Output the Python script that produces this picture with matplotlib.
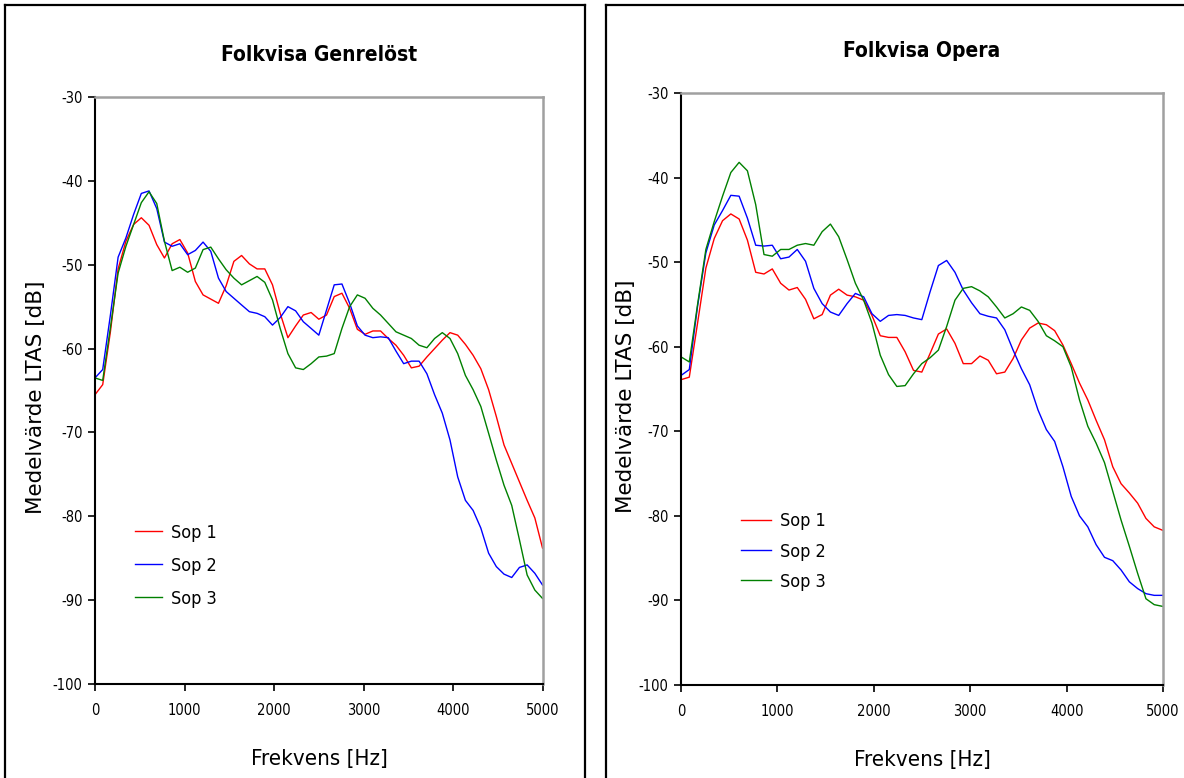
import matplotlib
matplotlib.use('Agg')
import matplotlib.pyplot as plt
from matplotlib.lines import Line2D

#-------------- Dados --------------

freq = [0, 86, 172, 258, 345, 431, 517, 603, 689, 775, 861, 947, 1034, 1120, 1206,
        1292, 1378, 1464, 1550, 1636, 1723, 1809, 1895, 1981, 2067, 2153, 2239, 2325,
        2412, 2498, 2584, 2670, 2756, 2842, 2928, 3014, 3101, 3187, 3273, 3359, 3445,
        3531, 3617, 3704, 3790, 3876, 3962, 4048, 4134, 4220, 4306, 4393, 4479, 4565,
        4651, 4737, 4823, 4909, 4995]

genre_sop1 = [-65.5, -64.3, -58, -50.5, -47.2, -45.2, -44.4, -45.3, -47.6, -49.2, -47.5, -47,
              -48.6, -52, -53.6, -54.1, -54.6, -52.5, -49.6, -48.9, -49.9, -50.5, -50.5, -52.4,
              -55.8, -58.7, -57.3, -56, -55.7, -56.5, -56, -53.8, -53.4, -55.2, -57.7, -58.3,
              -57.9, -57.9, -58.8, -59.6, -60.8, -62.3, -62.1, -61, -60, -59, -58.1, -58.4,
              -59.5, -60.8, -62.4, -64.9, -68.1, -71.5, -73.7, -75.9, -78.1, -80.2, -83.8]
genre_sop2 = [-63.5, -62.5, -56, -49.1, -46.8, -44, -41.5, -41.2, -43.3, -47.3, -47.8, -47.5,
              -48.8, -48.3, -47.3, -48.4, -51.6, -53.2, -54, -54.8, -55.6, -55.8, -56.2, -57.2,
              -56.3, -55, -55.5, -56.8, -57.6, -58.4, -55.4, -52.4, -52.3, -54.6, -57.3, -58.4,
              -58.7, -58.6, -58.7, -60.3, -61.8, -61.5, -61.5, -63, -65.5, -67.7, -70.9, -75.3,
              -78.1, -79.3, -81.4, -84.4, -86, -86.9, -87.3, -86.1, -85.8, -86.8, -88.2]
genre_sop3 = [-63.5, -63.8, -57.5, -51, -47.8, -45.2, -42.6, -41.3, -42.7, -47.2, -50.7, -50.3,
              -50.9, -50.4, -48.2, -47.9, -49.3, -50.6, -51.6, -52.4, -51.9, -51.4, -52.1, -54.2,
              -57.6, -60.6, -62.3, -62.5, -61.8, -61, -60.9, -60.6, -57.6, -55, -53.6, -54,
              -55.2, -56, -57, -58, -58.4, -58.8, -59.6, -59.9, -58.8, -58.1, -58.8, -60.6,
              -63.2, -64.9, -66.9, -70.1, -73.3, -76.3, -78.7, -82.8, -87, -88.8, -89.8]

opera_sop1 = [-63.9, -63.6, -57.2, -50.7, -47.2, -45.1, -44.3, -44.9, -47.4, -51.2, -51.4, -50.8,
              -52.5, -53.3, -53, -54.4, -56.7, -56.2, -53.9, -53.2, -53.9, -54.1, -54.5, -56.3,
              -58.7, -58.9, -58.9, -60.6, -62.8, -63, -60.8, -58.5, -57.9, -59.6, -62, -62,
              -61.1, -61.6, -63.2, -63, -61.4, -59.2, -57.8, -57.2, -57.4, -58.1, -59.8, -62,
              -64.3, -66.3, -68.7, -71, -74.2, -76.2, -77.3, -78.5, -80.3, -81.3, -81.7]
opera_sop2 = [-63.4, -62.7, -55.2, -48.9, -45.6, -43.9, -42.1, -42.2, -44.8, -48, -48.1, -48,
              -49.6, -49.4, -48.5, -49.9, -53.1, -54.9, -55.9, -56.3, -54.9, -53.7, -54.1, -56.1,
              -57, -56.3, -56.2, -56.3, -56.6, -56.8, -53.5, -50.4, -49.8, -51.2, -53.3, -54.8,
              -56.1, -56.4, -56.6, -58, -60.4, -62.6, -64.5, -67.5, -69.8, -71.2, -74.2, -77.7,
              -80, -81.3, -83.4, -84.9, -85.3, -86.4, -87.8, -88.6, -89.2, -89.4, -89.4]
opera_sop3 = [-61.2, -61.8, -55, -48.5, -45.2, -42.2, -39.4, -38.2, -39.2, -43.2, -49.1, -49.3,
              -48.5, -48.5, -48, -47.8, -48, -46.4, -45.5, -47, -49.7, -52.5, -54.5, -57.2,
              -61, -63.3, -64.7, -64.6, -63.2, -62, -61.3, -60.4, -57.6, -54.5, -53.1, -52.9,
              -53.4, -54.1, -55.3, -56.6, -56.1, -55.3, -55.7, -57, -58.7, -59.3, -60, -62.4,
              -66.3, -69.4, -71.4, -73.7, -77.1, -80.5, -83.6, -86.8, -89.8, -90.5, -90.7]

labels = ['Sop 1', 'Sop 2', 'Sop 3']
colors = ['#ff0000', '#0000ff', '#008000']
titles = ['Folkvisa Genrelöst', 'Folkvisa Opera']
yticks = [-100, -90, -80, -70, -60, -50, -40, -30]
xticks = [0, 1000, 2000, 3000, 4000, 5000]

#-------------- Figura --------------

W, H = 1184, 778
fig = plt.figure(figsize=(W / 100, H / 100), dpi=100)

def fx(px):
    return px / W

def fy(py):
    return 1 - py / H

# molduras dos dois graficos
for x0, x1 in [(5, 585), (606, 1190)]:
    fig.add_artist(Line2D([fx(x0), fx(x0)], [fy(5), fy(790)], color='black', lw=1.6))
    fig.add_artist(Line2D([fx(x0), fx(x1)], [fy(5), fy(5)], color='black', lw=1.6))
    fig.add_artist(Line2D([fx(x1), fx(x1)], [fy(5), fy(790)], color='black', lw=1.6))

ax1 = fig.add_axes([fx(95), fy(684), fx(543) - fx(95), fy(97) - fy(684)])
ax2 = fig.add_axes([fx(681), fy(685), fx(1163) - fx(681), fy(93) - fy(685)])

dados = [(ax1, [genre_sop1, genre_sop2, genre_sop3], 4.5),
         (ax2, [opera_sop1, opera_sop2, opera_sop3], 2)]

cond = dict(family='DejaVu Sans', stretch='condensed')

for k, (ax, series, lpad) in enumerate(dados):
    for s, lab, c in zip(series, labels, colors):
        ax.plot(freq, s, color=c, lw=1.0, label=lab)
    ax.set_xlim(0, 5000)
    ax.set_ylim(-100, -30)
    ax.set_xticks(xticks)
    ax.set_yticks(yticks)
    ax.set_xticklabels([str(t) for t in xticks], fontsize=10.5, **cond)
    ax.set_yticklabels([str(t) for t in yticks], fontsize=10.5, **cond)
    ax.tick_params(direction='out', length=5, width=1.2, pad=4)
    ax.tick_params(axis='x', pad=9)
    for sp in ['left', 'bottom']:
        ax.spines[sp].set_color('black')
        ax.spines[sp].set_linewidth(1.5)
    for sp in ['top', 'right']:
        ax.spines[sp].set_color('#a0a0a0')
        ax.spines[sp].set_linewidth(1.8)
    ax.set_title(titles[k], fontsize=15, fontweight='bold', pad=26, **cond)
    ax.set_ylabel('Medelvärde LTAS [dB]', fontsize=15.5, family='DejaVu Sans', labelpad=lpad)
    ax.yaxis.label.set_y(0.488)
    ax.set_xlabel('Frekvens [Hz]', fontsize=16, labelpad=22, **cond)

leg1 = ax1.legend(loc='upper left', bbox_to_anchor=(0.09, 0.273), frameon=False,
                  handlelength=1.5, handletextpad=0.5, labelspacing=0.83,
                  borderpad=0, borderaxespad=0, prop=dict(size=13, **cond))
leg2 = ax2.legend(loc='upper left', bbox_to_anchor=(0.125, 0.2915), frameon=False,
                  handlelength=1.65, handletextpad=0.5, labelspacing=0.67,
                  borderpad=0, borderaxespad=0, prop=dict(size=13, **cond))

fig.savefig('out.png', dpi=100)
